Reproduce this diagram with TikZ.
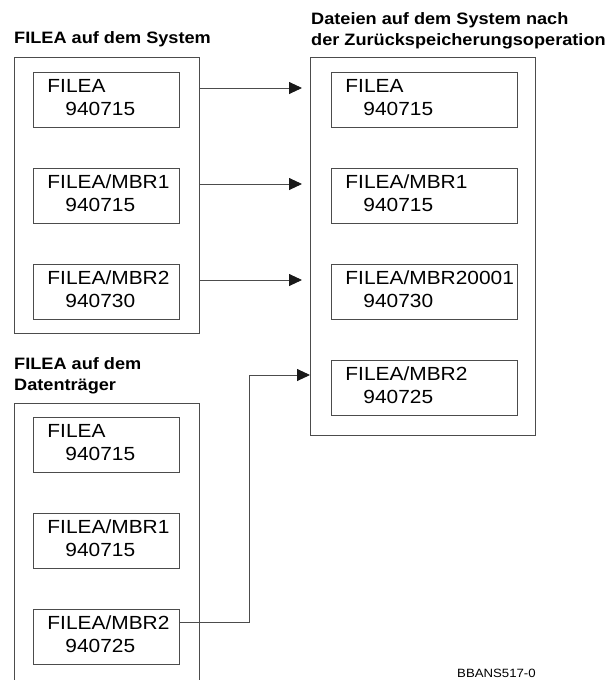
\documentclass[tikz,border=0pt]{standalone}
\usepackage{fontspec}
\setmainfont[FakeStretch=1.1]{Liberation Sans}
\usetikzlibrary{arrows.meta,positioning}

\tikzset{
  rahmen/.style={draw=black!70, line width=0.9pt, inner sep=0pt, anchor=north west},
  datei/.style={draw=black!70, line width=0.9pt, inner sep=0pt, text width=#1,
    align=left, anchor=north west, font=\fontsize{19}{23}\selectfont},
  titel/.style={inner sep=0pt, align=left, anchor=north west,
    font=\bfseries\fontsize{16.5}{21}\selectfont},
  pfeil/.style={draw=black!70, line width=0.9pt, -{Triangle[length=13pt,width=12pt,black!90]}}
}
\newcommand\eintrag[2]{\hspace*{14pt}\rule{0pt}{20pt}#1\\\hspace*{32pt}#2\rule[-12pt]{0pt}{0pt}}

\begin{document}
\begin{tikzpicture}[x=1pt,y=-1pt]
  \useasboundingbox (0,0) rectangle (615,680);

  % titles
  \node[titel] (t1) at (14,31) {FILEA auf dem System};
  \node[titel] (t2) at (311,12) {Dateien auf dem System nach\\der Zurückspeicherungsoperation};
  \node[titel] (t3) at (14,357) {FILEA auf dem\\Datenträger};

  % outer frames
  \node[rahmen, minimum width=185pt, minimum height=276pt] (links) at (14,57) {};
  \node[rahmen, minimum width=225pt, minimum height=378pt] (rechts) at (310,57) {};
  \node[rahmen, minimum width=185pt, minimum height=300pt] (traeger) at (14,403) {};

  % files on the system
  \node[datei=146pt] (s1) at (33,72)  {\eintrag{FILEA}{940715}};
  \node[datei=146pt] (s2) at (33,168) {\eintrag{FILEA/MBR1}{940715}};
  \node[datei=146pt] (s3) at (33,264) {\eintrag{FILEA/MBR2}{940730}};

  % after restore
  \node[datei=186pt] (r1) at (331,72)  {\eintrag{FILEA}{940715}};
  \node[datei=186pt] (r2) at (331,168) {\eintrag{FILEA/MBR1}{940715}};
  \node[datei=186pt] (r3) at (331,264) {\eintrag{FILEA/MBR20001}{940730}};
  \node[datei=186pt] (r4) at (331,360) {\eintrag{FILEA/MBR2}{940725}};

  % on the medium
  \node[datei=146pt] (d1) at (33,417) {\eintrag{FILEA}{940715}};
  \node[datei=146pt] (d2) at (33,513) {\eintrag{FILEA/MBR1}{940715}};
  \node[datei=146pt] (d3) at (33,609) {\eintrag{FILEA/MBR2}{940725}};

  \foreach \i in {1,2,3}
    \draw[pfeil] ([yshift=-16pt]links.east |- s\i.north) -- ([xshift=-8pt,yshift=-16pt]rechts.west |- s\i.north);

  \coordinate (knick) at (249,375);
  \draw[pfeil] ([yshift=-13pt]d3.north east) -| (knick) -- (knick -| rechts.west);

  \node[anchor=base west, inner sep=0pt, font=\fontsize{12}{14}\selectfont] (code) at (457,677) {BBANS517-0};
\end{tikzpicture}
\end{document}
